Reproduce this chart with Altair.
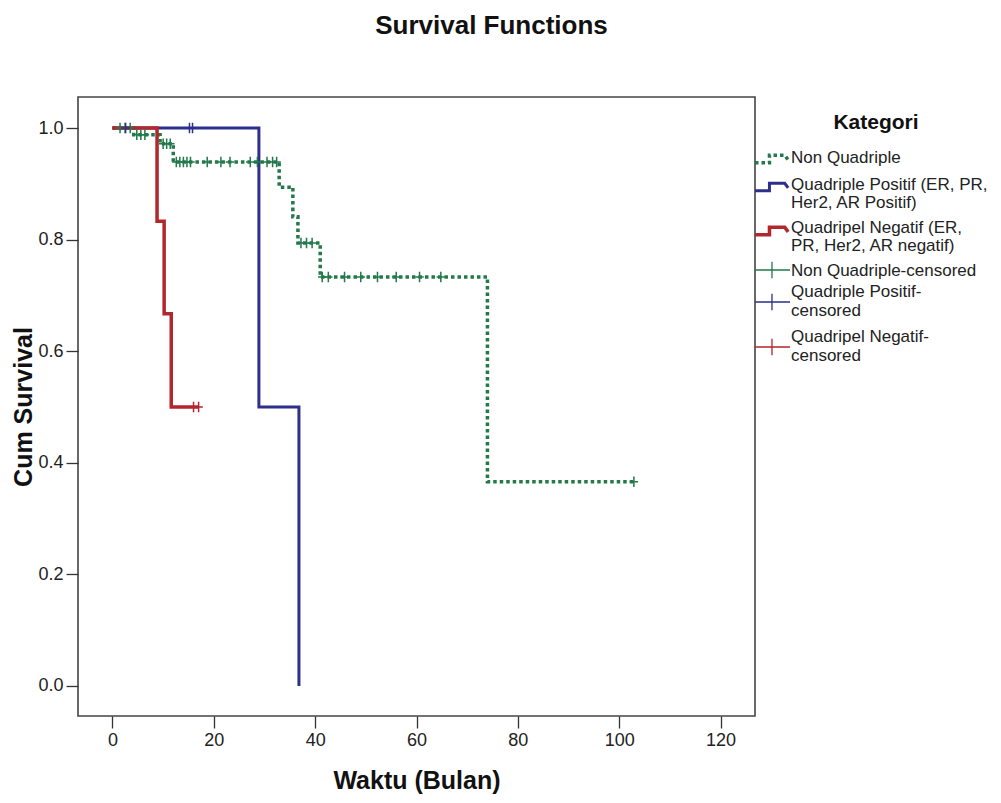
import altair as alt
import pandas as pd

FONT = "Liberation Sans"

# ---------------- data ----------------
series_names = ["Non Quadriple", "Quadriple Positif", "Quadripel Negatif"]

# Non Quadriple (green, dotted)
nq_time = [0, 4.2, 9.4, 12.0, 32.9, 35.6, 36.6, 41.0, 74.0, 102.9]
nq_surv = [1.0, 0.988, 0.972, 0.939, 0.894, 0.841, 0.794, 0.733, 0.366, 0.366]
nq_cens = [1.5, 2.5, 3.5, 4.8, 5.6, 6.4, 10.0, 10.7, 11.4, 12.6, 13.3, 14.0,
           14.7, 15.4, 18.7, 21.4, 23.2, 27.2, 28.6, 30.5, 31.6, 32.4, 37.2,
           38.3, 39.4, 41.4, 42.6, 45.8, 49.0, 52.3, 56.0, 60.6, 64.8, 102.9]

# Quadriple Positif (blue)
qp_time = [0, 28.9, 36.8]
qp_surv = [1.0, 0.5, 0.0]
qp_cens = [2.6, 15.2, 15.8]

# Quadripel Negatif (red)
qn_time = [0, 8.8, 10.2, 11.6, 17.0]
qn_surv = [1.0, 0.833, 0.667, 0.5, 0.5]
qn_cens = [16.0, 17.0]

x_ticks = [0, 20, 40, 60, 80, 100, 120]
y_ticks = [0.0, 0.2, 0.4, 0.6, 0.8, 1.0]

legend_labels = [
    ["Non Quadriple"],
    ["Quadriple Positif (ER, PR,", "Her2, AR Positif)"],
    ["Quadripel Negatif (ER,", "PR, Her2, AR negatif)"],
    ["Non Quadriple-censored"],
    ["Quadriple Positif-", "censored"],
    ["Quadripel Negatif-", "censored"],
]

GREEN, BLUE, RED = "#23794a", "#2d2f8c", "#b2262e"


def step_value(ts, ss, t):
    v = ss[0]
    for ti, si in zip(ts, ss):
        if ti <= t:
            v = si
    return v


def curve_df(ts, ss):
    return pd.DataFrame({"t": ts, "s": ss, "i": list(range(len(ts)))})


def cens_df(ts_c, ts, ss):
    return pd.DataFrame({"t": ts_c, "s": [step_value(ts, ss, t) for t in ts_c]})


# ---------------- scales / axes ----------------
x_enc = alt.X(
    "t:Q",
    scale=alt.Scale(domain=[-6.8, 126.8], nice=False, zero=False),
    axis=alt.Axis(
        values=x_ticks, title="Waktu (Bulan)", grid=False, domain=False,
        tickSize=12, tickWidth=1.3, tickColor="#333", labelPadding=3,
        labelFont=FONT, labelFontSize=18, labelColor="#222", labelFlush=False,
        titleFont=FONT, titleFontSize=25, titleFontWeight="bold", titleColor="#111",
        titleX=338.5, titleY=72, titleBaseline="alphabetic", titleAlign="center",
    ),
)
y_enc = alt.Y(
    "s:Q",
    scale=alt.Scale(domain=[-0.0538, 1.0556], nice=False, zero=False),
    axis=alt.Axis(
        values=y_ticks, format=".1f", title="Cum Survival", grid=False, domain=False,
        tickSize=12, tickWidth=1.3, tickColor="#333", labelPadding=3,
        labelFont=FONT, labelFontSize=18, labelColor="#222", labelFlush=False,
        titleFont=FONT, titleFontSize=25, titleFontWeight="bold", titleColor="#111",
        titleX=-47, titleY=309.5, titleAngle=270, titleBaseline="alphabetic",
        titleAlign="center",
    ),
)

PLUS = "M-0.8,0H0.8M0,-1V1"


def line_layer(ts, ss, color, width, dash=None):
    kw = dict(interpolate="step-after", color=color, strokeWidth=width, strokeCap="butt")
    if dash:
        kw["strokeDash"] = dash
    return alt.Chart(curve_df(ts, ss)).mark_line(**kw).encode(x=x_enc, y=y_enc, order="i:O")


def cens_layer(tc, ts, ss, color):
    return alt.Chart(cens_df(tc, ts, ss)).mark_point(
        shape=PLUS, filled=False, color=color, strokeWidth=1.5, size=110, opacity=1
    ).encode(x=x_enc, y=y_enc)


layers = [
    line_layer(nq_time, nq_surv, GREEN, 3.5, [3.5, 3]),
    line_layer(qp_time, qp_surv, BLUE, 3),
    line_layer(qn_time, qn_surv, RED, 3.5),
    cens_layer(nq_cens, nq_time, nq_surv, GREEN),
    cens_layer(qp_cens, qp_time, qp_surv, BLUE),
    cens_layer(qn_cens, qn_time, qn_surv, RED),
]

# ---------------- legend (drawn beside the plot) ----------------
OX, OY = 78, 97  # plot origin on the page
one = alt.Data(values=[{}])

layers.append(
    alt.Chart(one).mark_text(
        font=FONT, fontSize=21, fontWeight="bold", color="#111",
        align="center", baseline="alphabetic"
    ).encode(x=alt.value(876 - OX), y=alt.value(129 - OY), text=alt.value("Kategori"))
)

text_base = [163, 190, 233, 276, 297, 342]
line_h = [17.5, 17.5, 17.5, 18.5, 18.5, 18.5]
colors = [GREEN, BLUE, RED, GREEN, BLUE, RED]
STEP = "M-1,0.22H-0.15V-0.22H0.75L0.95,0.05"
CENS = "M-1,0H1M-0.03,-0.47V0.47"
sym_y = [159, 187, 231, 270, 302, 347]

for k, lab in enumerate(legend_labels):
    layers.append(
        alt.Chart(one).mark_text(
            font=FONT, fontSize=17, color="#222", align="left",
            baseline="alphabetic", lineHeight=line_h[k]
        ).encode(x=alt.value(791 - OX), y=alt.value(text_base[k] - OY),
                 text=alt.value(lab if len(lab) > 1 else lab[0]))
    )
    if k < 3:
        kw = dict(shape=STEP, filled=False, color=colors[k], size=34 * 34, opacity=1,
                  strokeWidth=[3.5, 3, 3.5][k])
        if k == 0:
            kw["strokeDash"] = [3.5, 3]
        layers.append(alt.Chart(one).mark_point(**kw).encode(
            x=alt.value(772 - OX), y=alt.value(sym_y[k] - OY)))
    else:
        layers.append(alt.Chart(one).mark_point(
            shape=CENS, filled=False, color=colors[k], size=35 * 35, opacity=1,
            strokeWidth=1.3
        ).encode(x=alt.value(772.5 - OX), y=alt.value(sym_y[k] - OY)))

chart = alt.layer(*layers).properties(
    width=677,
    height=619,
    background="white",
    padding={"left": 70, "top": 89, "right": 236, "bottom": 79},
    autosize=alt.AutoSizeParams(type="none"),
    title=alt.TitleParams(
        "Survival Functions", font=FONT, fontSize=26, fontWeight="bold",
        color="#111", anchor="middle", dx=75, offset=37, baseline="alphabetic"
    ),
).configure_view(stroke="#444", strokeWidth=1.6)

chart.save("out.html", embed_options={"renderer": "svg", "actions": False})
